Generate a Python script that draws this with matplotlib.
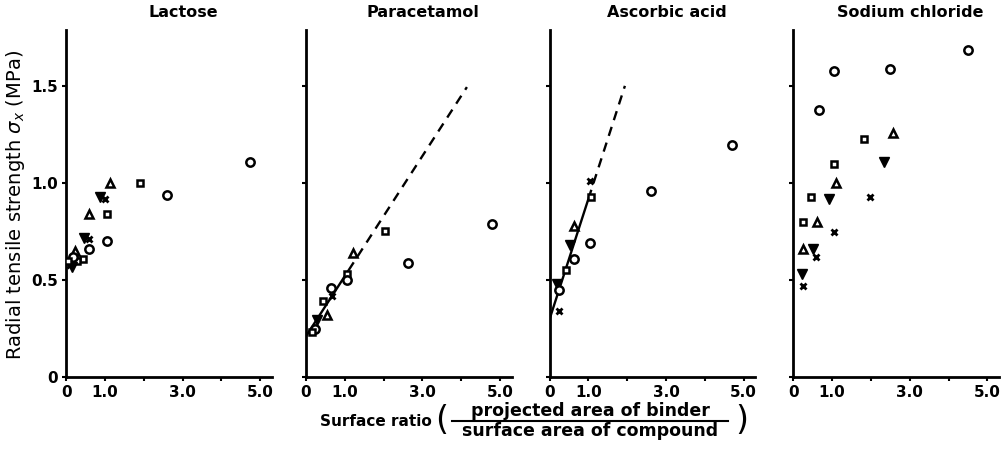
import matplotlib
matplotlib.use("Agg")
import matplotlib.pyplot as plt
from matplotlib.lines import Line2D

# ---------- data ----------
titles = ["Lactose", "Paracetamol", "Ascorbic acid", "Sodium chloride"]

x_ticks = [0, 1, 2, 3, 4, 5]
x_ticklabels = ["0", "1.0", "", "3.0", "", "5.0"]
y_ticks = [0, 0.5, 1.0, 1.5]
y_ticklabels = ["0", "0.5", "1.0", "1.5"]

# marker codes: o circle, s square, ^ triangle, v inverted triangle, x cross
lac_x = [4.75, 1.90, 2.60, 1.14, 0.88, 1.00, 0.60, 1.04, 0.47, 0.60, 1.06, 0.60,
         0.23, 0.44, 0.29, 0.18, 0.10, 0.15, 0.05]
lac_y = [1.11, 1.00, 0.94, 1.00, 0.93, 0.92, 0.84, 0.84, 0.72, 0.71, 0.70, 0.66,
         0.65, 0.61, 0.60, 0.62, 0.58, 0.57, 0.60]
lac_m = ["o", "s", "o", "^", "v", "x", "^", "s", "v", "x", "o", "o",
         "^", "s", "s", "o", "x", "v", "s"]

par_x = [4.79, 2.62, 2.05, 1.22, 1.06, 1.06, 0.65, 0.67, 0.44, 0.54, 0.28, 0.23, 0.16]
par_y = [0.79, 0.59, 0.755, 0.64, 0.53, 0.50, 0.46, 0.42, 0.39, 0.32, 0.295, 0.25, 0.23]
par_m = ["o", "o", "s", "^", "s", "o", "o", "x", "s", "^", "v", "o", "s"]

asc_x = [4.70, 2.60, 1.04, 1.06, 1.04, 0.63, 0.43, 0.53, 0.63, 0.20, 0.25, 0.25]
asc_y = [1.20, 0.96, 0.69, 0.93, 1.01, 0.61, 0.55, 0.68, 0.78, 0.48, 0.45, 0.34]
asc_m = ["o", "o", "o", "s", "x", "o", "s", "v", "^", "v", "o", "x"]

nacl_x = [4.50, 2.50, 1.04, 0.67, 2.57, 1.83, 2.33, 1.04, 1.09, 0.45, 0.92, 1.98,
          0.25, 0.62, 1.04, 0.25, 0.50, 0.59, 0.22, 0.25]
nacl_y = [1.69, 1.59, 1.58, 1.38, 1.26, 1.23, 1.11, 1.10, 1.00, 0.93, 0.92, 0.93,
          0.80, 0.80, 0.75, 0.66, 0.66, 0.62, 0.53, 0.47]
nacl_m = ["o", "o", "o", "o", "^", "s", "v", "s", "^", "s", "v", "x",
          "s", "^", "x", "^", "v", "x", "v", "x"]

# fitted lines: (intercept, slope, end of solid part, end of dashed part)
par_fit = [0.21, 0.31, 1.1, 4.15]
asc_fit = [0.30, 0.62, 1.0, 1.94]

# ---------- figure ----------
W, H = 1003, 451
fig = plt.figure(figsize=(W / 100, H / 100), dpi=100)

lefts = [0.066, 0.305, 0.548, 0.791]
width = 0.205
bottom = 0.164
height = 0.769

marker_style = {
    "o": dict(ms=6.0, mew=1.8, mfc="white"),
    "s": dict(ms=5.0, mew=1.8, mfc="white"),
    "^": dict(ms=6.0, mew=1.8, mfc="white"),
    "v": dict(ms=6.5, mew=1.0, mfc="black"),
    "x": dict(ms=4.5, mew=2.0, mfc="black"),
}

panels = [(lac_x, lac_y, lac_m, None),
          (par_x, par_y, par_m, par_fit),
          (asc_x, asc_y, asc_m, asc_fit),
          (nacl_x, nacl_y, nacl_m, None)]

for i, (xs, ys, ms, fit) in enumerate(panels):
    ax = fig.add_axes([lefts[i], bottom, width, height])
    ax.set_xlim(0, 5.3)
    ax.set_ylim(0, 1.79)

    if fit is not None:
        b, k, x_solid, x_end = fit
        ax.plot([0, x_solid], [b, b + k * x_solid], color="black", lw=1.7,
                solid_capstyle="butt", zorder=2)
        ax.plot([x_solid, x_end], [b + k * x_solid, b + k * x_end], color="black",
                lw=1.7, dashes=(4, 3), zorder=2)

    for x, y, m in zip(xs, ys, ms):
        ax.plot([x], [y], ls="none", marker=m, mec="black", zorder=3,
                **marker_style[m])

    for side in ["top", "right"]:
        ax.spines[side].set_visible(False)
    for side in ["left", "bottom"]:
        ax.spines[side].set_linewidth(2.0)

    ax.set_xticks(x_ticks)
    ax.set_xticklabels(x_ticklabels, fontsize=11, fontweight="bold")
    ax.set_yticks(y_ticks)
    if i == 0:
        ax.set_yticklabels(y_ticklabels, fontsize=11, fontweight="bold")
    else:
        ax.set_yticklabels([])
    ax.tick_params(axis="both", direction="out", length=3, width=1.5, pad=3)

    # titles sit a little right of the panel centre in the original
    ax.text(0.57, 1.03, titles[i], transform=ax.transAxes, ha="center",
            va="bottom", fontsize=11.5, fontweight="bold")

fig.text(0.015, 0.545, r"Radial tensile strength $\sigma_x$ (MPa)", rotation=90,
         ha="center", va="center", fontsize=14)

# x label: "Surface ratio" + fraction in brackets, placed by pixel
fig.text(320 / W, 1 - 421 / H, "Surface ratio", ha="left", va="center",
         fontsize=11, fontweight="bold")
fig.text(442 / W, 1 - 420 / H, "(", ha="center", va="center", fontsize=24)
fig.text(742 / W, 1 - 420 / H, ")", ha="center", va="center", fontsize=24)
fig.text(590 / W, 1 - 411 / H, "projected area of binder", ha="center",
         va="center", fontsize=12.5, fontweight="bold")
fig.text(590 / W, 1 - 431 / H, "surface area of compound", ha="center",
         va="center", fontsize=12.5, fontweight="bold")
fig.add_artist(Line2D([452 / W, 728 / W], [1 - 421 / H, 1 - 421 / H],
                      color="black", lw=1.5))

fig.savefig("out.png", dpi=100, facecolor="white")
